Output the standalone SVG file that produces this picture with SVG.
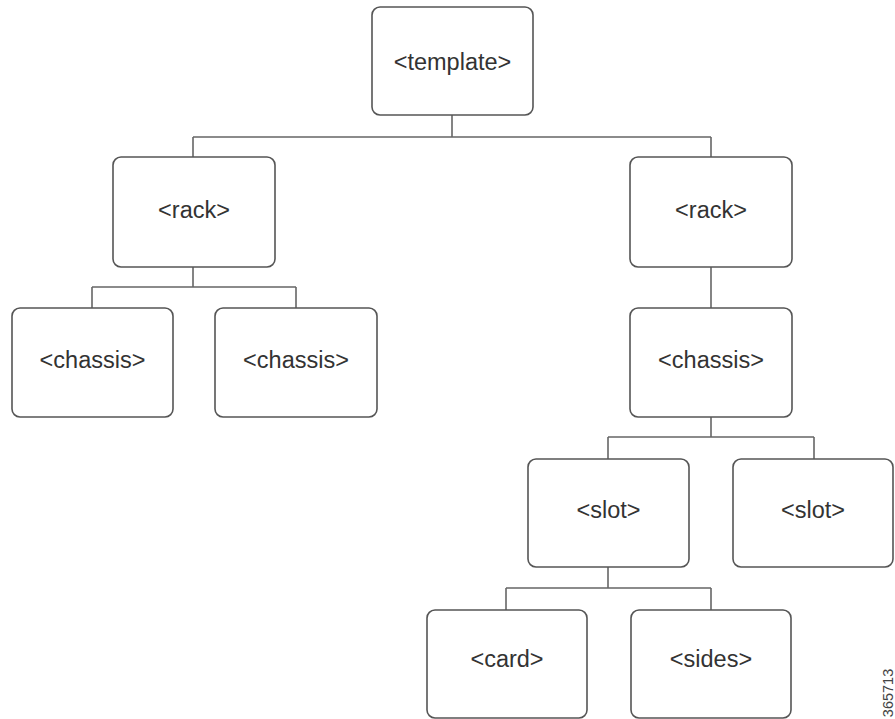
<svg xmlns="http://www.w3.org/2000/svg" width="895" height="719" viewBox="0 0 895 719">
<style>
.box{fill:#fff;stroke:#555;stroke-width:1.6}
.lbl{font-family:"Liberation Sans",Arial,sans-serif;font-size:23.5px;fill:#333;text-anchor:middle}
.con{fill:none;stroke:#666;stroke-width:1.6}
.id{font-family:"Liberation Sans",Arial,sans-serif;font-size:14.5px;fill:#444;text-anchor:middle}
</style>
<rect width="895" height="719" fill="#fff"/>
<g id="connectors">
<path class="con" d="M452 115V137M193 137H711M193 137V157M711 137V157"/>
<path class="con" d="M193 267V287M92 287H296M92 287V308M296 287V308"/>
<path class="con" d="M711 267V308"/>
<path class="con" d="M711 417V437M608 437H814M608 437V459M814 437V459"/>
<path class="con" d="M608 567V588M506 588H711M506 588V610M711 588V610"/>
</g>
<g id="template"><rect class="box" x="372" y="7" width="161" height="108" rx="8"/><text class="lbl" x="452.5" y="70">&lt;template&gt;</text></g>
<g id="rack1"><rect class="box" x="113" y="157" width="162" height="110" rx="8"/><text class="lbl" x="194" y="218">&lt;rack&gt;</text></g>
<g id="rack2"><rect class="box" x="630" y="157" width="162" height="110" rx="8"/><text class="lbl" x="711" y="218">&lt;rack&gt;</text></g>
<g id="chassis1"><rect class="box" x="12" y="308" width="161" height="109" rx="8"/><text class="lbl" x="92.5" y="368">&lt;chassis&gt;</text></g>
<g id="chassis2"><rect class="box" x="215" y="308" width="162" height="109" rx="8"/><text class="lbl" x="296" y="368">&lt;chassis&gt;</text></g>
<g id="chassis3"><rect class="box" x="630" y="308" width="162" height="109" rx="8"/><text class="lbl" x="711" y="368">&lt;chassis&gt;</text></g>
<g id="slot1"><rect class="box" x="528" y="459" width="161" height="108" rx="8"/><text class="lbl" x="608.5" y="518">&lt;slot&gt;</text></g>
<g id="slot2"><rect class="box" x="733" y="459" width="160" height="108" rx="8"/><text class="lbl" x="813" y="518">&lt;slot&gt;</text></g>
<g id="card"><rect class="box" x="427" y="610" width="160" height="108" rx="8"/><text class="lbl" x="507" y="667">&lt;card&gt;</text></g>
<g id="sides"><rect class="box" x="631" y="610" width="160" height="108" rx="8"/><text class="lbl" x="711" y="667">&lt;sides&gt;</text></g>
<text class="id" transform="translate(893,693) rotate(-90)">365713</text>
</svg>
